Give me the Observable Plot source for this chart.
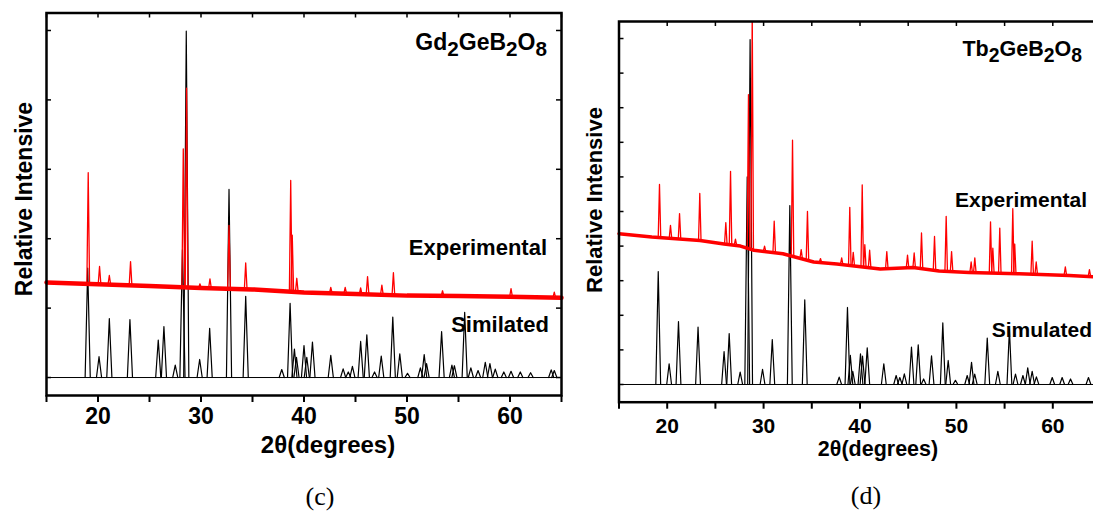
<!DOCTYPE html>
<html><head><meta charset="utf-8">
<script src="https://cdn.jsdelivr.net/npm/d3@7"></script>
<script src="https://cdn.jsdelivr.net/npm/@observablehq/plot@0.6"></script>
<style>
body{margin:0;background:#fff;}
#wrap{position:relative;width:1093px;height:515px;overflow:hidden;background:#fff;font-family:"Liberation Sans",Arial,sans-serif;}
.pane{position:absolute;top:0;}
.t{position:absolute;white-space:nowrap;line-height:1;font-weight:bold;color:#000;}
.t sub{font-size:0.9em;vertical-align:baseline;position:relative;top:0.32em;}
.cap{position:absolute;white-space:nowrap;line-height:1;font-family:"Liberation Serif","Times New Roman",serif;color:#000;}
</style></head><body><div id="wrap"></div>
<script>
// ---------- shared ----------
const xTicks = [15, 20, 25, 30, 35, 40, 45, 50, 55, 60, 65];
const simBaseX = [15, 65];
const simBaseY = [0, 0];

// ---------- (c) Gd2GeB2O8 ----------
const gdSimPos = [19.0, 20.1, 21.1, 23.1, 25.85, 26.4, 27.5, 28.2, 28.57, 29.87, 30.84, 32.72, 34.34, 37.84, 38.65, 39.07, 39.27, 40.0, 40.27, 40.82, 42.6, 43.8, 44.3, 44.7, 45.5, 46.1, 46.85, 47.5, 48.62, 49.3, 50.05, 51.3, 51.67, 51.9, 53.36, 54.36, 54.6, 55.6, 56.2, 56.9, 57.6, 58.05, 58.57, 59.4, 60.1, 61.0, 62.0, 64.0, 64.3];
const gdSimInt = [1575, 300, 850, 835, 540, 735, 180, 1840, 4990, 260, 710, 2710, 1170, 115, 1070, 410, 290, 460, 290, 510, 320, 125, 80, 160, 520, 615, 80, 310, 870, 340, 60, 140, 330, 200, 660, 180, 170, 940, 140, 100, 220, 200, 120, 80, 90, 80, 70, 110, 100];
const gdBaseX = [15, 20, 25, 30, 35, 40, 45, 50, 55, 60, 65];
const gdBaseY = [1370, 1345, 1320, 1290, 1270, 1225, 1205, 1180, 1175, 1165, 1150];
const gdExpPos = [19.05, 20.15, 21.1, 23.16, 28.28, 28.6, 29.9, 30.87, 32.72, 34.34, 38.71, 38.86, 39.3, 42.6, 44.0, 45.5, 46.17, 47.56, 48.68, 53.45, 60.1, 64.3];
const gdExpTop = [2950, 1600, 1470, 1670, 3295, 4170, 1350, 1420, 2190, 1650, 2840, 2050, 1430, 1300, 1300, 1290, 1455, 1330, 1510, 1250, 1280, 1230];
const gdYTicks = [0, 1000, 2000, 3000, 4000, 5000];

// ---------- (d) Tb2GeB2O8 ----------
const tbSimPos = [19.07, 20.2, 21.17, 23.2, 25.9, 26.43, 27.57, 28.3, 28.6, 29.89, 30.9, 32.72, 34.27, 37.84, 38.7, 39.0, 39.25, 40.05, 40.26, 40.75, 42.47, 43.75, 44.13, 44.6, 45.34, 46.04, 46.6, 47.42, 48.59, 49.15, 49.9, 51.12, 51.57, 51.9, 53.2, 54.3, 55.5, 56.13, 56.9, 57.4, 57.86, 58.3, 59.94, 60.97, 61.84, 63.7];
const tbSimInt = [1633, 300, 910, 830, 477, 737, 180, 3000, 4985, 220, 650, 2587, 1224, 106, 1113, 420, 190, 443, 410, 530, 300, 130, 100, 154, 540, 574, 80, 415, 890, 347, 60, 130, 320, 150, 670, 190, 800, 150, 130, 240, 190, 110, 100, 100, 80, 100];
const tbBaseX = [15, 18.4, 23.4, 25.9, 27.6, 29, 32, 35.2, 37.6, 42.1, 45.5, 48.2, 51.3, 56.5, 61.7, 65];
const tbBaseY = [2180, 2130, 2080, 2030, 2000, 1940, 1890, 1770, 1740, 1670, 1690, 1640, 1620, 1600, 1575, 1550];
const tbExpPos = [19.2, 20.34, 21.28, 23.38, 26.08, 26.57, 27.08, 28.43, 28.82, 30.1, 31.1, 33.0, 33.9, 34.55, 35.9, 38.1, 38.94, 39.3, 40.23, 40.5, 41.0, 42.78, 44.93, 45.62, 46.38, 47.73, 48.94, 49.5, 51.53, 51.91, 53.54, 53.78, 54.5, 55.85, 56.05, 57.86, 58.28, 61.3, 63.8];
const tbExpTop = [2890, 2300, 2470, 2760, 2340, 3080, 2100, 4190, 5400, 2000, 2360, 3530, 1950, 2500, 1820, 1830, 2560, 1910, 2886, 2020, 1940, 1920, 1870, 1900, 2190, 2140, 2430, 1920, 1770, 1830, 2350, 1970, 2260, 2540, 2030, 2070, 1770, 1700, 1660];
const tbYTicks = [0, 500, 1000, 1500, 2000, 2500, 3000, 3500, 4000, 4500, 5000];

// ---------- helpers ----------
function peakLines(pos, top, base, hw) {
  const out = [];
  pos.forEach((p, i) => {
    out.push({x: p - hw, y: base(p - hw), k: i});
    out.push({x: p, y: top[i], k: i});
    out.push({x: p + hw, y: base(p + hw), k: i});
  });
  return out;
}
function zip(xs, ys) { return xs.map((x, i) => ({x, y: ys[i]})); }

function panel(c) {
  const plotW = c.width - c.mL - c.mR, plotH = c.height - c.mT - c.mB;
  const baseFn = d3.scaleLinear().domain(c.baseX).range(c.baseY);
  return Plot.plot({
    width: c.width, height: c.height,
    marginLeft: c.mL, marginRight: c.mR, marginTop: c.mT, marginBottom: c.mB,
    style: {fontFamily: "Liberation Sans, Arial, sans-serif", fontSize: c.fontSize + "px", fontWeight: "bold", background: "transparent", color: "black", maxWidth: "none"},
    x: {domain: [15, 65], label: null},
    y: {domain: c.yDomain, axis: null},
    marks: [
      Plot.line(zip(simBaseX, simBaseY), {x: "x", y: "y", stroke: "black", strokeWidth: 1}),
      Plot.line(peakLines(c.simPos, c.simInt, () => 0, 0.25), {x: "x", y: "y", z: "k", stroke: "black", strokeWidth: 1.2, clip: true}),
      Plot.line(zip(c.baseX, c.baseY), {x: "x", y: "y", stroke: "#ff0000", strokeWidth: c.band}),
      Plot.line(peakLines(c.expPos, c.expTop, baseFn, 0.13), {x: "x", y: "y", z: "k", stroke: "#ff0000", strokeWidth: 1.3, clip: true}),
      Plot.frame({stroke: "black", strokeWidth: 2.5}),
      Plot.tickX(xTicks, {x: d => d, insetBottom: plotH - 5, stroke: "black", strokeWidth: 1.5}),
      Plot.tickY(c.yTicks, {y: d => d, insetRight: plotW - 5, stroke: "black", strokeWidth: 1.5}),
      Plot.tickY(c.yTicks, {y: d => d, insetLeft: plotW - 5, stroke: "black", strokeWidth: 1.5}),
      Plot.axisX({ticks: xTicks, tickSize: 7, tickPadding: c.tickPad, tickFormat: d => d % 10 === 0 ? String(d) : "", strokeWidth: 2, label: null})
    ]
  });
}

const wrap = document.getElementById("wrap");
function addPane(svg, left, width) {
  const d = document.createElement("div");
  d.className = "pane";
  d.style.left = left + "px";
  d.style.width = width + "px";
  d.appendChild(svg);
  wrap.appendChild(d);
}

addPane(panel({
  width: 566, height: 470, mL: 46, mR: 5, mT: 12.5, mB: 75,
  yDomain: [-259, 5252], yTicks: gdYTicks, fontSize: 23, tickPad: 5,
  simPos: gdSimPos, simInt: gdSimInt, baseX: gdBaseX, baseY: gdBaseY,
  expPos: gdExpPos, expTop: gdExpTop, band: 4.5
}), 0, 566);

addPane(panel({
  width: 560, height: 470, mL: 52.5, mR: 25.5, mT: 21, mB: 68.3,
  yDomain: [-256, 5246], yTicks: tbYTicks, fontSize: 21, tickPad: 9,
  simPos: tbSimPos, simInt: tbSimInt, baseX: tbBaseX, baseY: tbBaseY,
  expPos: tbExpPos, expTop: tbExpTop, band: 3.5
}), 566, 560);

// ---------- text ----------
function txt(html, o) {
  const d = document.createElement("div");
  d.className = o.cls || "t";
  d.innerHTML = html;
  d.style.fontSize = o.size + "px";
  const asc = o.cls === "cap" ? 0.8375 : 0.8465;
  if (o.rotate) {
    d.style.left = o.cx + "px";
    d.style.top = o.cy + "px";
    d.style.transform = "translate(-50%,-50%) rotate(-90deg)";
  } else {
    d.style.top = (o.baseline - asc * o.size) + "px";
    if (o.right != null) d.style.right = (1093 - o.right) + "px";
    else { d.style.left = o.cx + "px"; d.style.transform = "translateX(-50%)"; }
  }
  wrap.appendChild(d);
}

txt("Gd<sub>2</sub>GeB<sub>2</sub>O<sub>8</sub>", {right: 547, baseline: 50, size: 23});
txt("Experimental", {right: 547, baseline: 256, size: 22});
txt("Similated", {right: 549, baseline: 333, size: 22});
txt("Relative Intensive", {rotate: true, cx: 24, cy: 199, size: 23});
txt("2θ(degrees)", {cx: 328, baseline: 453, size: 24});
txt("(c)", {cls: "cap", cx: 320, baseline: 506, size: 26});

txt("Tb<sub>2</sub>GeB<sub>2</sub>O<sub>8</sub>", {right: 1082, baseline: 56.7, size: 21.5});
txt("Experimental", {right: 1087, baseline: 206.7, size: 21});
txt("Simulated", {right: 1092, baseline: 336.7, size: 21});
txt("Relative Intensive", {rotate: true, cx: 595, cy: 200, size: 22});
txt("2θ(degrees)", {cx: 878, baseline: 457.5, size: 21.5});
txt("(d)", {cls: "cap", cx: 866, baseline: 505, size: 26});
</script></body></html>
